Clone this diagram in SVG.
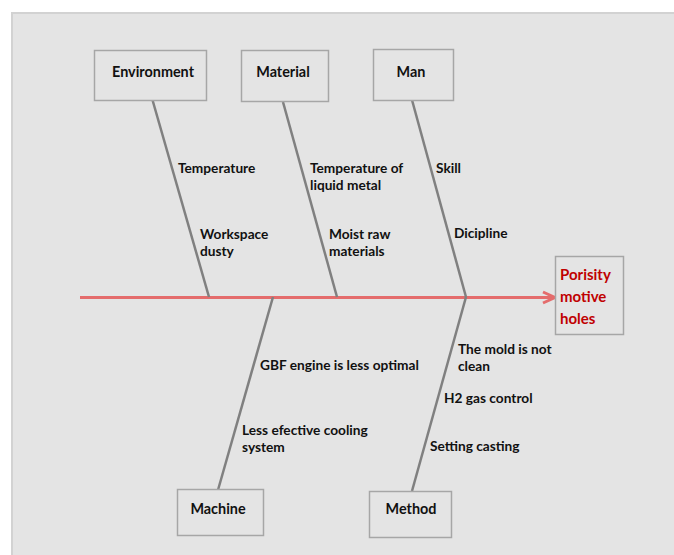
<svg xmlns="http://www.w3.org/2000/svg" width="674" height="555" viewBox="0 0 674 555">
<defs>
<style>
.box{fill:#e4e4e4;stroke:#a6a6a6;stroke-width:1.5}
.bt{font-family:Lato,"Open Sans","Liberation Sans",sans-serif;font-weight:bold;font-size:14.4px;fill:#111;text-anchor:middle}
.lb{font-family:Lato,"Open Sans","Liberation Sans",sans-serif;font-weight:bold;font-size:13.7px;fill:#111}
.eff{font-family:Lato,"Open Sans","Liberation Sans",sans-serif;font-weight:bold;font-size:15px;fill:#c00000}
.bone{stroke:#808080;stroke-width:2.5;fill:none}
.spine{stroke:#e46c6c;stroke-width:3;fill:none}
</style>
<marker id="arr" markerUnits="userSpaceOnUse" markerWidth="16" markerHeight="16" viewBox="0 0 16 16" refX="13" refY="8" orient="auto">
<path d="M1,2.5 L13,8 L1,13.5" fill="none" stroke="#e46c6c" stroke-width="3"/>
</marker>
</defs>
<rect x="0" y="0" width="674" height="555" fill="#ffffff"/>
<rect x="12" y="13" width="670" height="550" fill="#e4e4e4" stroke="#d2d2d2" stroke-width="2"/>

<g id="connectors">
<line class="spine" x1="80" y1="297.5" x2="555" y2="297.5" marker-end="url(#arr)"/>
<line class="bone" x1="152.5" y1="100" x2="209" y2="297"/>
<line class="bone" x1="283" y1="102" x2="337" y2="297"/>
<line class="bone" x1="412" y1="100" x2="466" y2="297"/>
<line class="bone" x1="273" y1="297" x2="218" y2="490"/>
<line class="bone" x1="466" y1="297" x2="412" y2="491"/>
</g>

<g id="environment">
<rect class="box" x="94.5" y="50.5" width="112" height="50"/>
<text class="bt" x="153" y="77">Environment</text>
</g>
<g id="material">
<rect class="box" x="241.5" y="50.5" width="87" height="51"/>
<text class="bt" x="283" y="77">Material</text>
</g>
<g id="man">
<rect class="box" x="373.5" y="49.5" width="80" height="51"/>
<text class="bt" x="411" y="77">Man</text>
</g>
<g id="machine">
<rect class="box" x="177.5" y="489.5" width="86" height="46"/>
<text class="bt" x="218" y="514">Machine</text>
</g>
<g id="method">
<rect class="box" x="369.5" y="491.5" width="82" height="46"/>
<text class="bt" x="411" y="514">Method</text>
</g>
<g id="effect">
<rect class="box" x="555.5" y="256.5" width="68" height="78"/>
<text class="eff" x="560" y="280">Porisity</text>
<text class="eff" x="560" y="302">motive</text>
<text class="eff" x="560" y="324">holes</text>
</g>

<g id="causes">
<text class="lb" x="178" y="173">Temperature</text>
<text class="lb" x="200" y="239">Workspace</text>
<text class="lb" x="200" y="256">dusty</text>
<text class="lb" x="310" y="173">Temperature of</text>
<text class="lb" x="310" y="190">liquid metal</text>
<text class="lb" x="329" y="239">Moist raw</text>
<text class="lb" x="329" y="256">materials</text>
<text class="lb" x="436" y="173">Skill</text>
<text class="lb" x="454" y="238">Dicipline</text>
<text class="lb" x="260" y="370">GBF engine is less optimal</text>
<text class="lb" x="242" y="435">Less efective cooling</text>
<text class="lb" x="242" y="452">system</text>
<text class="lb" x="458" y="354">The mold is not</text>
<text class="lb" x="458" y="371">clean</text>
<text class="lb" x="444" y="403">H2 gas control</text>
<text class="lb" x="430" y="451">Setting casting</text>
</g>
</svg>
